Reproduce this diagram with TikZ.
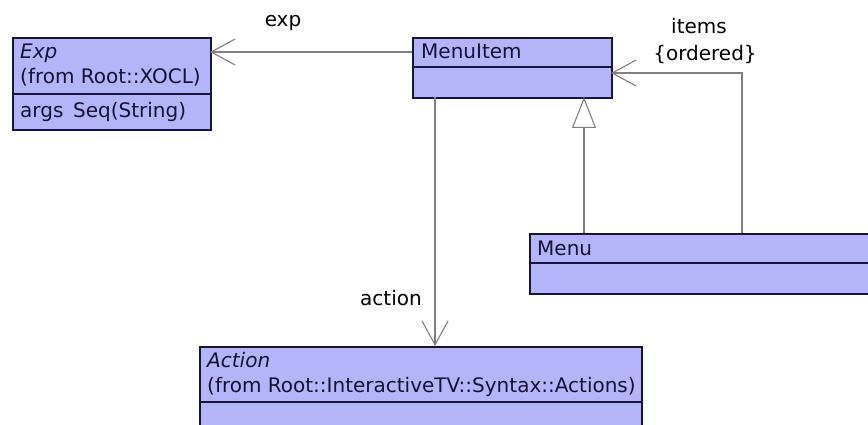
\documentclass[tikz,border=0pt]{standalone}
\usepackage{fontspec}
\setmainfont{DejaVu Sans}
\usetikzlibrary{arrows.meta}
\definecolor{classfill}{RGB}{180,180,250}
\definecolor{classline}{RGB}{20,20,60}
\definecolor{conn}{RGB}{128,128,128}
\definecolor{classtext}{RGB}{20,20,50}
\begin{document}
\begin{tikzpicture}[x=1pt,y=-1pt, font=\fontsize{20}{25}\selectfont,
  classbox/.style={draw=classline, line width=1.6pt, fill=classfill, inner sep=0pt, anchor=north west},
  divider/.style={draw=classline, line width=1.6pt},
  txt/.style={anchor=base west, inner sep=0pt, text=classtext},
  lbl/.style={anchor=base, inner sep=0pt, text=black},
  assoc/.style={draw=conn, line width=1.1pt, -{Straight Barb[length=24pt,width=26pt,line width=1.1pt]}},
  gen/.style={draw=conn, line width=1.1pt, -{Triangle[open,length=31pt,width=24pt,fill=white,line width=1.1pt]}}]
\useasboundingbox (0,0) rectangle (868,425);
\clip (0,0) rectangle (868,425);
\fill[white] (0,0) rectangle (868,425);

% Exp
\node[classbox, minimum width=198pt, minimum height=92pt] (exp) at (12,37) {};
\draw[divider] (12,94) -- (210,94);
\node[txt, font=\fontsize{20}{25}\selectfont\itshape] (expname) at (20,59) {Exp};
\node[txt] (expfrom) at (20,84) {(from Root::XOCL)};
\node[txt] (exparg) at (20,118) {args\ \,Seq(String)};

% MenuItem
\node[classbox, minimum width=199pt, minimum height=60pt] (menuitem) at (412,37) {};
\draw[divider] (412,67) -- (611,67);
\node[txt] (miname) at (421,59) {MenuItem};

% Menu
\node[classbox, minimum width=360pt, minimum height=60pt] (menu) at (529,233) {};
\draw[divider] (529,263) -- (889,263);
\node[txt] (mname) at (537,255) {Menu};

% Action
\node[classbox, minimum width=442pt, minimum height=110pt] (action) at (199,346) {};
\draw[divider] (199,402) -- (641,402);
\node[txt, font=\fontsize{20}{25}\selectfont\itshape] (aname) at (207,367) {Action};
\node[txt] (afrom) at (207,392) {(from Root::InteractiveTV::Syntax::Actions)};

% connector end points
\coordinate (expS) at (412,52);
\coordinate (expT) at (210,52);
\coordinate (actS) at (435,97);
\coordinate (actT) at (435,346);
\coordinate (genS) at (584,233);
\coordinate (genT) at (584,97);
\coordinate (itS) at (742,233);
\coordinate (itB) at (742,73);
\coordinate (itT) at (611,73);

\draw[assoc] (expS) -- (expT);
\draw[assoc] (actS) -- (actT);
\draw[gen] (genS) -- (genT);
\draw[assoc] (itS) -- (itB) -- (itT);

% labels
\node[lbl] (lexp) at (283,27) {exp};
\node[lbl] (laction) at (391,305) {action};
\node[lbl] (litems) at (699,34) {items};
\node[lbl] (lord) at (705,61) {\{ordered\}};
\end{tikzpicture}
\end{document}
